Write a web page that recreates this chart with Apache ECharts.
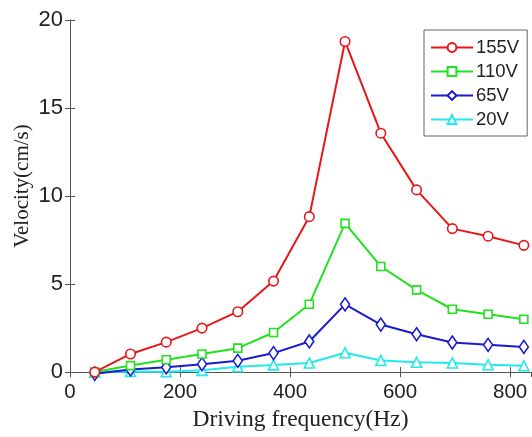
<!DOCTYPE html>
<html>
<head>
<meta charset="utf-8">
<script src="https://cdn.jsdelivr.net/npm/echarts@6/dist/echarts.min.js"></script>
<style>
  html, body { margin: 0; padding: 0; background: #fff; }
  #chart { width: 532px; height: 437px; }
</style>
</head>
<body>
<div id="chart"></div>
<script>
// driving frequency (Hz)
const freq = [45, 110, 175, 240, 305, 370, 435, 500, 565, 630, 695, 760, 825];

const v155 = [0, 1.03, 1.7, 2.5, 3.43, 5.17, 8.83, 18.78, 13.57, 10.35, 8.15, 7.72, 7.2];
const v110 = [0, 0.37, 0.7, 1.03, 1.36, 2.25, 3.85, 8.45, 6.0, 4.67, 3.57, 3.29, 3.0];
const v65 = [-0.1, 0.15, 0.27, 0.45, 0.64, 1.08, 1.74, 3.85, 2.7, 2.15, 1.68, 1.55, 1.43];
const v20 = [0, 0.03, 0.02, 0.1, 0.3, 0.41, 0.52, 1.1, 0.66, 0.56, 0.52, 0.42, 0.36];

const seriesNames = ["155V", "110V", "65V", "20V"];
const seriesColors = ["#e8161b", "#22e21f", "#1a1ad0", "#22eaea"];
const seriesSymbols = ["circle", "rect", "diamond", "triangle"];
const seriesData = [v155, v110, v65, v20];

const axisColor = "#555";

const chart = echarts.init(document.getElementById("chart"));

const mkSeries = (i) => ({
  name: seriesNames[i],
  type: "line",
  clip: false,
  data: freq.map((f, k) => [f, seriesData[i][k]]),
  symbol: seriesSymbols[i],
  symbolSize: i === 2 ? [9, 13] : i === 1 ? 8 : i === 0 ? 9.5 : 10,
  showAllSymbol: true,
  lineStyle: { color: seriesColors[i], width: 2 },
  itemStyle: { color: "#fff", borderColor: seriesColors[i], borderWidth: 1.6 },
  z: 10 - i
});

chart.setOption({
  animation: false,
  grid: { left: 70, right: 1, top: 20, bottom: 64 },
  legend: {
    orient: "vertical",
    left: 424,
    top: 30,
    width: 103,
    padding: [8, 8, 7, 6],
    itemGap: 5,
    itemWidth: 42,
    itemHeight: 11,
    backgroundColor: "#fff",
    borderColor: "#666",
    borderWidth: 1,
    textStyle: { fontFamily: "Liberation Sans", fontSize: 18.5, color: "#222", padding: [0, 0, 0, -2] },
    data: seriesNames
  },
  xAxis: [
    {
      type: "value",
      min: 0,
      max: 838,
      interval: 200,
      name: "Driving frequency(Hz)",
      nameLocation: "middle",
      nameGap: 35,
      nameTextStyle: { fontFamily: "Liberation Serif", fontSize: 23.5, color: "#222" },
      axisLine: { show: true, lineStyle: { color: axisColor, width: 1 } },
      axisTick: { show: true, inside: true, length: 5, lineStyle: { color: axisColor } },
      axisLabel: {
        fontFamily: "Liberation Sans", fontSize: 20.5, color: "#222", margin: 10,
        showMaxLabel: false,
        formatter: (v) => (v % 200 === 0 ? String(v) : "")
      },
      splitLine: { show: false }
    },
    {
      type: "value",
      position: "top",
      min: 0,
      max: 838,
      interval: 200,
      axisLine: { show: true, lineStyle: { color: axisColor, width: 1 } },
      axisTick: { show: true, inside: true, length: 5, lineStyle: { color: axisColor } },
      axisLabel: { show: false },
      splitLine: { show: false }
    }
  ],
  yAxis: [
    {
      type: "value",
      min: 0,
      max: 20,
      interval: 5,
      name: "Velocity(cm/s)",
      nameLocation: "middle",
      nameGap: 37,
      nameMoveOverlap: false,
      nameTextStyle: { fontFamily: "Liberation Serif", fontSize: 21, color: "#222", padding: [0, 0, 0, 20] },
      axisLine: { show: true, lineStyle: { color: axisColor, width: 1 } },
      axisTick: { show: true, inside: true, length: 5, lineStyle: { color: axisColor } },
      axisLabel: { fontFamily: "Liberation Sans", fontSize: 22, color: "#222", margin: 7 },
      splitLine: { show: false }
    },
    {
      type: "value",
      position: "right",
      min: 0,
      max: 20,
      interval: 5,
      axisLine: { show: true, lineStyle: { color: axisColor, width: 1 } },
      axisTick: { show: true, inside: true, length: 5, lineStyle: { color: axisColor } },
      axisLabel: { show: false },
      splitLine: { show: false }
    }
  ],
  series: [0, 1, 2, 3].map(mkSeries)
});
</script>
</body>
</html>
